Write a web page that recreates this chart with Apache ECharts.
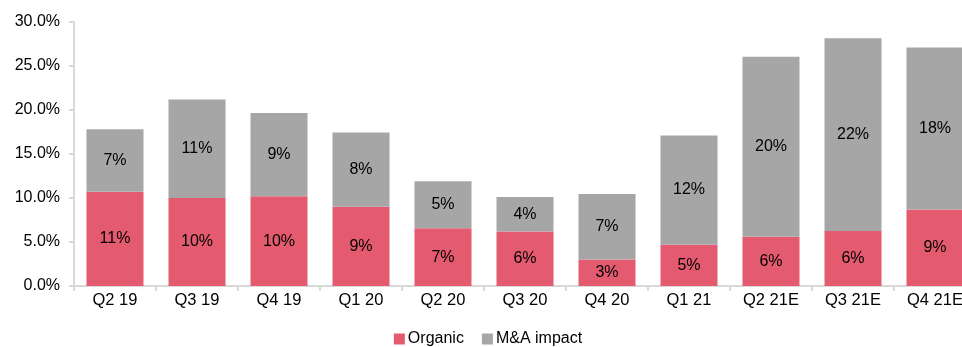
<!DOCTYPE html>
<html>
<head>
<meta charset="utf-8">
<script src="https://cdn.jsdelivr.net/npm/echarts@6/dist/echarts.min.js"></script>
<style>
  html, body { margin: 0; padding: 0; background: #fff; overflow: hidden; }
  /* canvas is a little wider than the window, so the last bar runs off the edge */
  #chart { width: 976px; height: 347px; }
</style>
</head>
<body>
<div id="chart"></div>
<script>
// Quarterly growth split into organic and M&A contributions (%)
const quarters = ['Q2 19', 'Q3 19', 'Q4 19', 'Q1 20', 'Q2 20', 'Q3 20', 'Q4 20', 'Q1 21', 'Q2 21E', 'Q3 21E', 'Q4 21E'];
const organic  = [10.7, 10.0, 10.2, 9.0, 6.55, 6.2, 3.0, 4.7, 5.6, 6.25, 8.7];
const mna      = [7.1, 11.2, 9.45, 8.45, 5.35, 3.9, 7.45, 12.4, 20.45, 21.9, 18.4];
const yTicks   = { min: 0, max: 30, step: 5 };

const FONT = '"Liberation Sans", Arial, sans-serif';
const text = size => ({ color: '#000', fontFamily: FONT, fontSize: size });

const chart = echarts.init(document.getElementById('chart'), null, { renderer: 'canvas' });

function stackSeries(name, data, color) {
  return {
    name: name,
    type: 'bar',
    stack: 'growth',
    data: data,
    barWidth: 57,
    itemStyle: { color: color },
    label: Object.assign({
      show: true,
      position: 'inside',
      formatter: p => Math.round(p.value) + '%'
    }, text(16)),
    emphasis: { disabled: true }
  };
}

chart.setOption({
  animation: false,
  backgroundColor: '#fff',
  grid: { left: 74, right: 0, top: 22, bottom: 61, containLabel: false, outerBoundsMode: 'none' },
  legend: {
    top: 326,
    left: 'center',
    itemWidth: 11,
    itemHeight: 11,
    itemGap: 18,
    icon: 'rect',
    textStyle: Object.assign({ padding: [0, 0, 0, -2] }, text(16)),
    data: ['Organic', 'M&A impact']
  },
  xAxis: {
    type: 'category',
    data: quarters,
    boundaryGap: true,
    axisLine: { lineStyle: { color: '#d9d9d9', width: 2 } },
    axisTick: { show: true, length: 5, lineStyle: { color: '#d9d9d9', width: 2 } },
    axisLabel: Object.assign({ margin: 6, interval: 0 }, text(16.5))
  },
  yAxis: {
    type: 'value',
    min: yTicks.min,
    max: yTicks.max,
    interval: yTicks.step,
    splitLine: { show: false },
    axisLine: { show: true, lineStyle: { color: '#d9d9d9', width: 2 } },
    axisTick: { show: true, length: 5, lineStyle: { color: '#d9d9d9', width: 2 } },
    axisLabel: Object.assign({ margin: 14, formatter: v => v.toFixed(1) + '%' }, text(16))
  },
  series: [
    stackSeries('Organic', organic, '#E45A6E'),
    stackSeries('M&A impact', mna, '#A6A6A6')
  ]
});
</script>
</body>
</html>
